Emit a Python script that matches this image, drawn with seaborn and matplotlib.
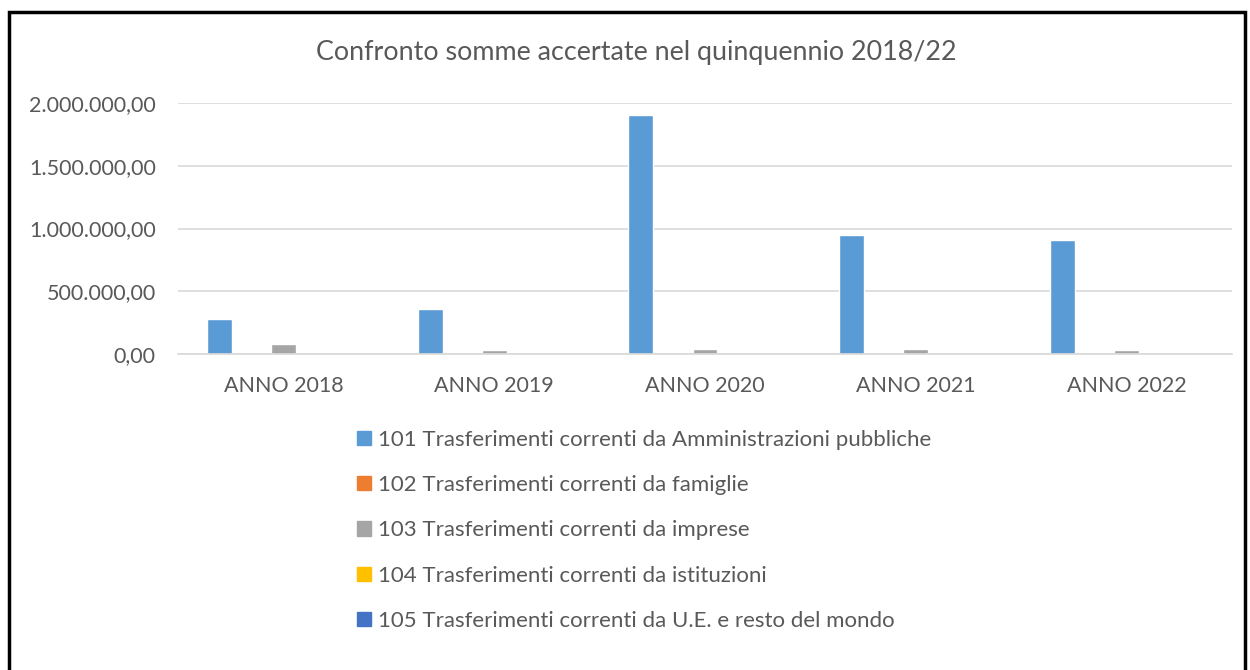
import matplotlib
matplotlib.use("Agg")
import matplotlib.pyplot as plt
import matplotlib.patches as mpatches
from matplotlib.ticker import FuncFormatter
import pandas as pd
import seaborn as sns

# Data
years = ["ANNO 2018", "ANNO 2019", "ANNO 2020", "ANNO 2021", "ANNO 2022"]
series_names = [
    "101 Trasferimenti correnti da Amministrazioni pubbliche",
    "102 Trasferimenti correnti da famiglie",
    "103 Trasferimenti correnti da imprese",
    "104 Trasferimenti correnti da istituzioni",
    "105 Trasferimenti correnti da U.E. e resto del mondo",
]
amm_pubbliche = [283000, 362000, 1906000, 947000, 905000]
famiglie = [0, 0, 0, 0, 0]
imprese = [76000, 35000, 40000, 43000, 35000]
istituzioni = [0, 0, 0, 0, 0]
ue_mondo = [0, 0, 0, 0, 0]
colors = ["#5B9BD5", "#ED7D31", "#A5A5A5", "#FFC000", "#4472C4"]


def it_format(v, pos):
    s = f"{v:,.2f}"
    return s.replace(",", "X").replace(".", ",").replace("X", ".")


def main():
    sns.set_theme(style="white")
    plt.rcParams["font.family"] = ["Lato", "DejaVu Sans"]

    rows = []
    for name, vals in zip(series_names, [amm_pubbliche, famiglie, imprese, istituzioni, ue_mondo]):
        for y, v in zip(years, vals):
            rows.append({"anno": y, "serie": name, "valore": v})
    df = pd.DataFrame(rows)

    fig = plt.figure(figsize=(12.5, 6.7), dpi=100)
    ax = fig.add_axes([0.1424, 0.4716, 0.8432, 0.3747])

    sns.barplot(data=df, x="anno", y="valore", hue="serie", palette=colors,
                order=years, hue_order=series_names, width=0.76, gap=0.22,
                ax=ax, legend=False, saturation=1, errorbar=None)

    ax.set_ylim(0, 2000000)
    ax.set_yticks([0, 500000, 1000000, 1500000, 2000000])
    ax.yaxis.set_major_formatter(FuncFormatter(it_format))
    ax.grid(axis="y", color="#D9D9D9", linewidth=1.2)
    ax.set_axisbelow(True)
    for s in ["top", "right", "left"]:
        ax.spines[s].set_visible(False)
    ax.spines["bottom"].set_color("#D9D9D9")
    ax.spines["bottom"].set_linewidth(1.2)
    ax.tick_params(axis="both", length=0, labelsize=15.5, colors="#595959")
    ax.tick_params(axis="x", pad=16)
    ax.tick_params(axis="y", pad=16)
    ax.set_xlabel("")
    ax.set_ylabel("")

    fig.text(0.509, 0.921, "Confronto somme accertate nel quinquennio 2018/22",
             ha="center", va="center", fontsize=19.4, color="#595959")

    handles = [mpatches.Patch(color=c, label=n) for c, n in zip(colors, series_names)]
    fig.legend(handles=handles, loc="upper left", bbox_to_anchor=(0.2786, 0.372),
               frameon=False, fontsize=16, labelcolor="#595959",
               handlelength=0.62, handleheight=0.62, handletextpad=0.3,
               labelspacing=1.14, borderaxespad=0)

    # outer black frame
    frame = mpatches.Rectangle((0.0075, -0.05), 0.9885, 1.032, transform=fig.transFigure,
                               fill=False, edgecolor="black", linewidth=2.5)
    fig.patches.append(frame)

    fig.savefig("out.png", dpi=100)


if __name__ == "__main__":
    main()
